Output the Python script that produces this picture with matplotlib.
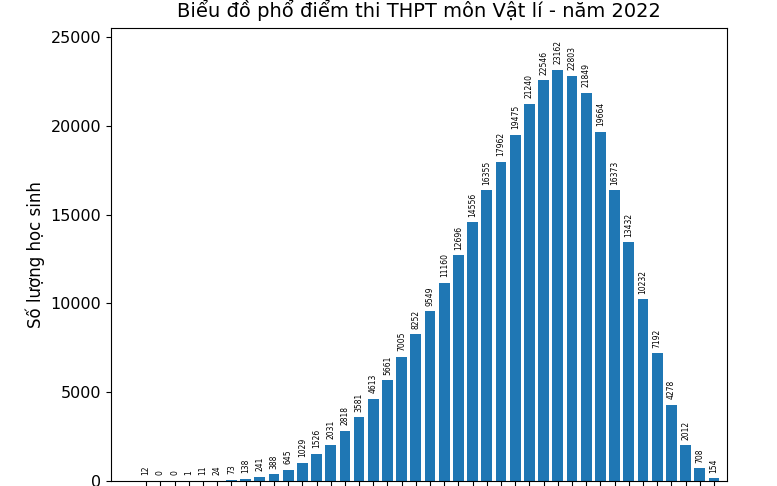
import numpy as np
import matplotlib.pyplot as plt

# score bins 0..10 step 0.25
scores = [i * 0.25 for i in range(41)]
counts = [12, 0, 0, 1, 11, 24, 73, 138, 241, 388, 645, 1029, 1526, 2031,
          2818, 3581, 4613, 5661, 7005, 8252, 9549, 11160, 12696, 14556,
          16355, 17962, 19475, 21240, 22546, 23162, 22803, 21849, 19664,
          16373, 13432, 10232, 7192, 4278, 2012, 708, 154]
title = 'Biểu đồ phổ điểm thi THPT môn Vật lí - năm 2022'
ylabel = 'Số lượng học sinh'

fig = plt.figure(figsize=(7.77, 4.86), dpi=100)
ax = fig.add_axes([111/777, 1 - 481/486, (727 - 111)/777, (481 - 28)/486])

bars = ax.bar(scores, counts, width=0.19, color='#1f77b4')
for x, h in zip(scores, counts):
    ax.annotate(str(h), (x, h), xytext=(0, 4), textcoords='offset points',
                ha='center', va='bottom', rotation=90, fontsize=5.5)

ax.set_xlim(-0.62, 10.23)
ax.set_ylim(0, 25500)
# tick labels fall below the cropped image edge, so only the marks remain
ax.set_xticks(scores)
ax.set_xticklabels([])
ax.tick_params(axis='x', length=6)
ax.tick_params(axis='y', labelsize=11.5)
ax.set_yticks([0, 5000, 10000, 15000, 20000, 25000])
ax.set_ylabel(ylabel, fontsize=12)
ax.set_title(title, fontsize=14, pad=8)

fig.savefig('out.png', dpi=100)
